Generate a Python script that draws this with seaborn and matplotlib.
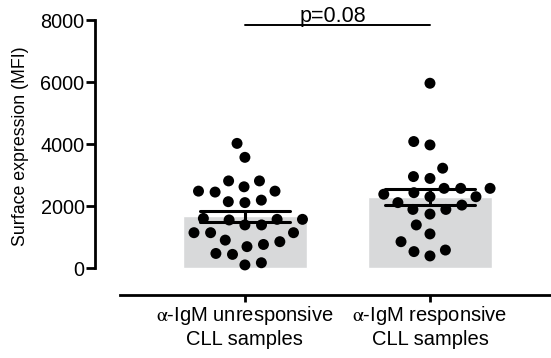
import numpy as np
import pandas as pd
import matplotlib
matplotlib.use("Agg")
import matplotlib.pyplot as plt
import seaborn as sns

categories = [r"$\mathrm{\alpha}$-IgM unresponsive" + "\nCLL samples",
              r"$\mathrm{\alpha}$-IgM responsive" + "\nCLL samples"]
unresponsive = [4020, 3570, 2810, 2810, 2480, 2450, 2620, 2480, 2140, 2110,
                2190, 1570, 1550, 1390, 1390, 1570, 1600, 1140, 1140, 1140,
                900, 760, 690, 850, 440, 470, 100, 170]
responsive = [5960, 4080, 3970, 3220, 2890, 2950, 2430, 2570, 2570, 2570,
              2300, 2300, 2380, 2110, 2030, 1890, 1740, 1890, 1390, 1100,
              850, 580, 390, 530]
yticks = [0, 2000, 4000, 6000, 8000]
p_text = "p=0.08"

df = pd.DataFrame({
    "group": [categories[0]] * len(unresponsive) + [categories[1]] * len(responsive),
    "value": unresponsive + responsive,
})

sns.set_style("ticks")
plt.rcParams["font.family"] = ["Liberation Sans", "DejaVu Sans"]
plt.rcParams["mathtext.fontset"] = "stix"
plt.rcParams["text.color"] = "black"
plt.rcParams["axes.labelcolor"] = "black"
plt.rcParams["xtick.color"] = "black"
plt.rcParams["ytick.color"] = "black"
plt.rcParams["axes.edgecolor"] = "black"

fig = plt.figure(figsize=(5.51, 3.58), dpi=100)
ax = fig.add_axes([95 / 551, (358 - 295) / 358, 1 - 95 / 551, (295 - 20) / 358])

sns.barplot(data=df, x="group", y="value", order=categories, color="#d8d9da",
            errorbar="se", capsize=0.49, err_kws={"color": "black", "linewidth": 2.2},
            width=0.67, saturation=1, ax=ax)
sns.swarmplot(data=df, x="group", y="value", order=categories, color="black",
              size=7.9, linewidth=3.5, edgecolor="none", zorder=1.5, ax=ax)

ax.set_xlim(-0.81, 1.654)
ax.set_ylim(-870, 8000)
ax.set_yticks(yticks)
ax.set_yticklabels([str(t) for t in yticks], fontsize=14.3)
ax.tick_params(axis="y", length=6.5, width=2, pad=1)
ax.tick_params(axis="x", length=4.8, width=2, labelsize=14.5, pad=2)
for lab in ax.get_xticklabels():
    lab.set_linespacing(1.15)
ax.spines["left"].set_bounds(0, 8000)
ax.spines["bottom"].set_bounds(-0.676, 1.654)
for s in ("left", "bottom"):
    ax.spines[s].set_linewidth(2)
sns.despine(ax=ax)
ax.set_xlabel("")
ax.set_ylabel("Surface expression (MFI)", fontsize=12.8)
ax.yaxis.set_label_coords(-0.145, 0.54)

ax.plot([0, 1], [7840, 7840], color="black", linewidth=1.4, clip_on=False)
ax.text(0.476, 7950, p_text, ha="center", va="baseline", fontsize=15.5)

fig.savefig("out.png", dpi=100)
